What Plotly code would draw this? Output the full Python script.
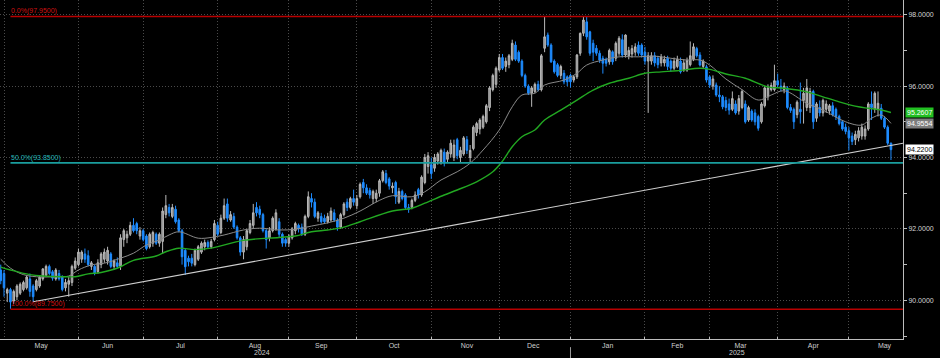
import pandas as pd
import plotly.graph_objects as go

# ---------------- data ----------------
dates = pd.bdate_range("2024-04-30", "2025-05-20")

opens = [
    90.85, 90.75, 90.20, 90.30, 89.98, 90.10, 90.20, 90.30, 90.35, 90.60,
    90.40, 90.30, 90.40, 90.60, 90.70, 90.95, 90.80, 90.60, 90.75, 90.65,
    90.35, 90.45, 90.50, 90.90, 91.00, 91.15, 91.30, 91.25, 90.95, 90.95,
    90.80, 91.00, 91.15, 91.10, 91.30, 90.95, 91.05, 90.95, 91.70, 91.75,
    91.85, 92.10, 92.15, 91.80, 91.95, 91.80, 91.50, 91.60, 91.85, 91.60,
    91.65, 92.40, 92.60, 92.35, 92.55, 92.25, 91.95, 91.40, 91.18, 91.18,
    91.00, 91.15, 91.35, 91.50, 91.62, 91.50, 91.70, 92.10, 91.90, 92.30,
    92.70, 92.25, 92.35, 92.05, 91.75, 91.35, 91.50, 91.90, 92.10, 92.60,
    92.55, 92.40, 91.95, 91.75, 91.95, 92.00, 92.20, 91.85, 91.70, 91.60,
    91.75, 91.95, 92.10, 92.05, 91.85, 92.35, 92.85, 92.75, 92.30, 92.35,
    92.30, 92.20, 92.25, 92.45, 92.25, 92.05, 92.40, 92.75, 92.60, 92.85,
    92.65, 92.90, 93.30, 93.15, 93.08, 92.85, 92.85, 93.00, 93.35, 93.55,
    93.40, 93.15, 93.30, 92.75, 93.05, 92.95, 92.60, 92.60, 92.80, 93.10,
    92.95, 93.30, 93.75, 93.80, 93.70, 93.90, 93.85, 94.15, 93.95, 94.10,
    94.00, 94.50, 94.00, 94.10, 94.50, 94.00, 94.25, 94.70, 94.80, 94.85,
    95.00, 95.40, 95.90, 96.05, 96.45, 96.80, 96.55, 96.60, 96.75, 97.15,
    96.95, 96.70, 96.30, 96.00, 95.80, 95.85, 96.05, 95.90, 97.06, 97.43,
    97.15, 96.70, 96.60, 96.30, 96.36, 96.26, 96.30, 96.17, 96.26, 96.92,
    97.48, 97.80, 97.52, 97.20, 97.06, 96.92, 96.78, 96.75, 96.68, 96.96,
    96.78, 96.92, 97.30, 96.87, 96.85, 96.90, 96.95, 97.15, 97.15, 96.95,
    96.70, 96.70, 96.85, 96.78, 96.65, 96.65, 96.78, 96.70, 96.50, 96.55,
    96.70, 96.45, 96.45, 96.60, 96.75, 97.05, 96.87, 96.55, 96.54, 96.26,
    96.00, 96.03, 95.75, 95.70, 95.60, 95.50, 95.35, 95.50, 95.30, 95.40,
    95.50, 95.05, 95.30, 95.25, 95.15, 95.00, 95.45, 95.70, 95.90, 95.90,
    96.15, 96.00, 95.90, 95.95, 95.40, 95.35, 95.20, 95.35, 95.60, 95.40,
    95.40, 95.85, 95.10, 95.40, 95.25, 95.35, 95.30, 95.45, 95.35, 95.15,
    95.00, 94.85, 94.75, 94.60, 94.50, 94.55, 94.60, 94.60, 94.80, 95.50,
    95.35, 95.35, 95.38, 95.10, 94.85, 94.40,
]
highs = [
    91.00, 90.85, 90.35, 90.35, 90.30, 90.45, 90.50, 90.55, 90.70, 90.75,
    90.45, 90.60, 90.70, 90.90, 91.00, 91.00, 90.85, 90.90, 90.85, 90.70,
    90.60, 90.65, 91.00, 91.20, 91.45, 91.40, 91.45, 91.40, 91.10, 91.00,
    91.15, 91.35, 91.45, 91.50, 91.35, 91.15, 91.20, 91.85, 92.00, 91.95,
    92.20, 92.30, 92.20, 92.05, 92.00, 91.85, 91.90, 91.95, 91.90, 91.90,
    92.60, 92.95, 92.70, 92.70, 92.65, 92.30, 92.00, 91.45, 91.25, 91.30,
    91.45, 91.55, 91.65, 91.70, 91.68, 91.72, 92.25, 92.20, 92.40, 92.85,
    92.85, 92.50, 92.45, 92.10, 91.80, 91.80, 92.00, 92.25, 92.70, 92.75,
    92.65, 92.45, 92.00, 92.05, 92.35, 92.55, 92.30, 91.90, 91.75, 91.85,
    92.05, 92.20, 92.15, 92.15, 92.40, 93.05, 93.00, 92.85, 92.50, 92.45,
    92.40, 92.45, 92.60, 92.55, 92.30, 92.45, 92.75, 92.85, 92.90, 93.10,
    92.95, 93.30, 93.40, 93.25, 93.15, 93.10, 93.10, 93.40, 93.65, 93.65,
    93.45, 93.30, 93.35, 93.15, 93.10, 93.00, 92.70, 92.85, 93.05, 93.15,
    93.50, 94.10, 94.15, 94.00, 94.10, 94.15, 94.25, 94.25, 94.20, 94.50,
    94.50, 94.55, 94.30, 94.60, 94.60, 94.35, 94.90, 95.00, 95.10, 95.20,
    95.50, 96.00, 96.35, 96.55, 96.90, 96.90, 96.80, 96.90, 97.30, 97.25,
    97.00, 96.75, 96.35, 96.05, 96.00, 96.10, 96.15, 96.90, 97.95, 97.50,
    97.20, 96.75, 96.65, 96.60, 96.45, 96.30, 96.35, 96.30, 96.90, 97.50,
    97.95, 97.94, 97.55, 97.30, 97.15, 97.00, 96.85, 96.80, 97.05, 97.00,
    97.25, 97.40, 97.45, 97.45, 97.10, 97.15, 97.20, 97.25, 97.20, 97.10,
    96.95, 96.95, 96.95, 96.85, 96.90, 96.85, 96.85, 96.75, 96.80, 96.85,
    96.80, 96.75, 96.80, 97.25, 97.20, 97.10, 96.95, 96.75, 96.60, 96.30,
    96.30, 96.10, 96.00, 95.75, 95.70, 95.65, 95.85, 95.60, 95.75, 95.90,
    95.60, 95.45, 95.35, 95.35, 95.20, 95.55, 96.00, 96.05, 96.10, 96.60,
    96.35, 96.20, 96.10, 96.00, 95.50, 95.40, 95.60, 96.10, 95.95, 96.20,
    95.95, 95.90, 95.55, 95.60, 95.65, 95.60, 95.50, 95.55, 95.40, 95.20,
    95.05, 94.95, 94.85, 94.70, 94.75, 94.85, 94.95, 94.90, 95.55, 95.85,
    95.85, 95.85, 95.50, 95.15, 94.90, 94.42,
]
lows = [
    90.45, 90.10, 89.95, 89.76, 89.90, 90.00, 90.15, 90.25, 90.30, 90.10,
    89.95, 90.25, 90.35, 90.55, 90.65, 90.70, 90.55, 90.55, 90.55, 90.25,
    90.25, 90.10, 90.40, 90.85, 90.95, 91.05, 91.05, 90.95, 90.85, 90.70,
    90.75, 90.90, 91.05, 91.00, 90.90, 90.85, 90.90, 90.85, 91.50, 91.60,
    91.80, 91.90, 91.85, 91.70, 91.65, 91.40, 91.45, 91.50, 91.55, 91.50,
    91.30, 92.30, 92.35, 92.30, 92.15, 91.90, 91.00, 90.71, 90.95, 90.95,
    90.95, 91.10, 91.30, 91.40, 91.45, 91.45, 91.65, 91.80, 91.85, 92.25,
    92.20, 92.20, 92.00, 91.70, 91.25, 91.15, 91.40, 91.85, 92.00, 92.35,
    92.30, 91.90, 91.45, 91.65, 91.90, 91.95, 91.75, 91.50, 91.50, 91.50,
    91.70, 91.85, 91.90, 91.80, 91.80, 92.30, 92.60, 92.30, 92.20, 92.15,
    92.15, 92.15, 92.20, 92.20, 91.95, 92.00, 92.35, 92.50, 92.55, 92.65,
    92.55, 92.85, 93.00, 92.95, 92.85, 92.70, 92.75, 92.90, 93.30, 93.25,
    93.10, 93.00, 92.70, 92.70, 92.80, 92.55, 92.45, 92.55, 92.75, 92.85,
    92.90, 93.25, 93.55, 93.40, 93.60, 93.80, 93.80, 93.75, 93.85, 94.00,
    93.90, 93.95, 93.85, 94.05, 94.10, 93.85, 94.20, 94.60, 94.65, 94.80,
    94.95, 95.30, 95.85, 95.95, 96.40, 96.45, 96.40, 96.50, 96.70, 96.70,
    96.65, 96.25, 95.95, 95.75, 95.42, 95.80, 95.85, 95.85, 96.95, 97.10,
    96.65, 96.35, 96.25, 96.20, 96.05, 96.00, 95.96, 96.10, 96.20, 96.85,
    97.40, 97.30, 96.85, 96.70, 96.85, 96.65, 96.35, 96.55, 96.60, 96.60,
    96.70, 96.85, 96.80, 96.80, 96.75, 96.80, 96.85, 96.85, 96.80, 96.60,
    95.25, 96.60, 96.55, 96.50, 96.55, 96.55, 96.45, 96.40, 96.45, 96.50,
    96.35, 96.40, 96.40, 96.55, 96.70, 96.80, 96.55, 96.50, 96.10, 95.95,
    95.90, 95.70, 95.55, 95.35, 95.30, 95.20, 95.30, 95.20, 95.20, 95.35,
    94.95, 95.00, 95.00, 94.90, 94.75, 94.95, 95.40, 95.60, 95.85, 95.85,
    95.95, 95.85, 95.80, 95.35, 95.25, 94.80, 95.10, 94.95, 94.95, 95.30,
    95.25, 94.80, 95.00, 95.15, 95.15, 95.25, 95.20, 95.15, 95.05, 94.90,
    94.75, 94.65, 94.20, 94.35, 94.35, 94.45, 94.50, 94.50, 94.75, 95.05,
    95.25, 95.15, 95.05, 94.80, 94.35, 93.93,
]
closes = [
    90.55, 90.35, 90.30, 89.95, 90.25, 90.40, 90.45, 90.50, 90.65, 90.25,
    90.10, 90.55, 90.65, 90.88, 90.95, 90.75, 90.62, 90.85, 90.60, 90.30,
    90.50, 90.55, 90.95, 91.10, 91.35, 91.35, 91.15, 91.00, 91.05, 90.75,
    91.05, 91.30, 91.35, 91.40, 90.95, 91.10, 90.95, 91.75, 91.95, 91.85,
    92.10, 91.95, 91.95, 91.95, 91.70, 91.45, 91.85, 91.90, 91.60, 91.85,
    92.50, 92.65, 92.45, 92.60, 92.20, 91.95, 91.22, 90.94, 91.08, 91.04,
    91.40, 91.50, 91.60, 91.62, 91.50, 91.65, 92.15, 91.85, 92.30, 92.65,
    92.30, 92.40, 92.05, 91.75, 91.35, 91.70, 91.95, 92.15, 92.45, 92.45,
    92.40, 91.95, 91.70, 91.95, 92.30, 92.45, 91.85, 91.60, 91.60, 91.80,
    92.00, 92.15, 92.00, 91.85, 92.35, 92.90, 92.75, 92.35, 92.45, 92.20,
    92.20, 92.35, 92.50, 92.25, 92.05, 92.40, 92.70, 92.60, 92.85, 92.75,
    92.85, 93.25, 93.15, 93.00, 92.95, 93.05, 93.00, 93.35, 93.60, 93.30,
    93.20, 93.20, 92.90, 93.05, 92.85, 92.60, 92.55, 92.80, 92.95, 92.95,
    93.45, 94.00, 94.05, 93.55, 94.00, 94.10, 94.20, 93.85, 94.15, 94.40,
    94.35, 94.05, 94.20, 94.55, 94.20, 94.20, 94.85, 94.95, 95.05, 95.15,
    95.45, 95.95, 96.30, 96.50, 96.80, 96.50, 96.70, 96.85, 97.20, 96.75,
    96.70, 96.30, 96.00, 95.80, 95.95, 96.05, 95.90, 96.85, 97.38, 97.15,
    96.68, 96.40, 96.30, 96.55, 96.12, 96.12, 96.12, 96.26, 96.87, 97.48,
    97.85, 97.38, 96.92, 96.95, 96.92, 96.73, 96.64, 96.64, 97.00, 96.68,
    97.20, 97.34, 96.87, 97.43, 97.00, 97.05, 97.10, 96.92, 96.87, 96.70,
    96.85, 96.85, 96.65, 96.60, 96.82, 96.75, 96.55, 96.50, 96.70, 96.75,
    96.40, 96.65, 96.72, 96.85, 97.10, 96.85, 96.59, 96.70, 96.17, 96.03,
    96.20, 95.75, 95.70, 95.42, 95.40, 95.33, 95.65, 95.25, 95.65, 95.85,
    95.00, 95.40, 95.05, 95.00, 94.82, 95.50, 95.95, 95.95, 96.02, 96.15,
    96.03, 95.95, 96.00, 95.40, 95.32, 95.00, 95.55, 95.28, 95.80, 95.95,
    95.85, 95.00, 95.50, 95.25, 95.60, 95.50, 95.45, 95.20, 95.15, 94.95,
    94.80, 94.73, 94.55, 94.45, 94.65, 94.75, 94.85, 94.80, 95.50, 95.40,
    95.80, 95.52, 95.10, 94.85, 94.40, 94.22,
]

# moving averages
ma_fast_dates = [
    "2024-04-30", "2024-05-03", "2024-05-09", "2024-05-15", "2024-05-23", "2024-05-29",
    "2024-06-03", "2024-06-07", "2024-06-13", "2024-06-20", "2024-06-26", "2024-07-02",
    "2024-07-08", "2024-07-11", "2024-07-16", "2024-07-24", "2024-07-30", "2024-08-05",
    "2024-08-13", "2024-08-20", "2024-08-28", "2024-09-04", "2024-09-11", "2024-09-18",
    "2024-09-25", "2024-10-02", "2024-10-10", "2024-10-16", "2024-10-24", "2024-10-30",
    "2024-11-06", "2024-11-13", "2024-11-19", "2024-11-25", "2024-12-02", "2024-12-06",
    "2024-12-11", "2024-12-17", "2024-12-20", "2024-12-30", "2025-01-03", "2025-01-08",
    "2025-01-15", "2025-01-22", "2025-01-30", "2025-02-06", "2025-02-13", "2025-02-20",
    "2025-02-26", "2025-03-03", "2025-03-10", "2025-03-17", "2025-03-24", "2025-03-28",
    "2025-04-03", "2025-04-14", "2025-04-21", "2025-04-30", "2025-05-07", "2025-05-12",
    "2025-05-15", "2025-05-20",
]
ma_fast_vals = [
    91.15, 90.90, 90.72, 90.66, 90.66, 90.68,
    90.85, 90.99, 91.04, 91.18, 91.32, 91.55,
    91.69, 91.83, 91.92, 91.74, 91.76, 91.83,
    91.97, 92.02, 91.97, 91.99, 92.08, 92.17,
    92.30, 92.50, 92.80, 92.93, 92.90, 93.04,
    93.37, 93.60, 93.84, 94.21, 94.77, 95.42,
    95.75, 95.80, 96.03, 96.17, 96.36, 96.59,
    96.73, 96.82, 96.82, 96.84, 96.78, 96.73,
    96.73, 96.59, 96.20, 95.90, 95.61, 95.75,
    95.87, 95.52, 95.33, 95.00, 94.91, 95.10,
    95.19, 94.9554,
]
ma_slow_dates = [
    "2024-04-30", "2024-05-03", "2024-05-13", "2024-05-17", "2024-05-28", "2024-05-31",
    "2024-06-06", "2024-06-12", "2024-06-18", "2024-06-20", "2024-06-26", "2024-07-05",
    "2024-07-10", "2024-07-16", "2024-07-23", "2024-07-30", "2024-08-13", "2024-08-28",
    "2024-09-04", "2024-09-11", "2024-09-18", "2024-09-25", "2024-10-02", "2024-10-16",
    "2024-10-24", "2024-10-30", "2024-11-07", "2024-11-13", "2024-11-21", "2024-11-28",
    "2024-12-03", "2024-12-06", "2024-12-11", "2024-12-17", "2024-12-20", "2024-12-27",
    "2025-01-03", "2025-01-10", "2025-01-17", "2025-01-27", "2025-02-03", "2025-02-10",
    "2025-02-17", "2025-02-26", "2025-03-03", "2025-03-10", "2025-03-18", "2025-03-27",
    "2025-04-03", "2025-04-14", "2025-04-21", "2025-04-28", "2025-05-06", "2025-05-09",
    "2025-05-15", "2025-05-20",
]
ma_slow_vals = [
    90.93, 90.85, 90.72, 90.68, 90.66, 90.66,
    90.74, 90.78, 90.87, 90.94, 91.12, 91.24,
    91.36, 91.46, 91.42, 91.46, 91.68, 91.76,
    91.80, 91.92, 91.97, 92.05, 92.20, 92.50,
    92.58, 92.72, 92.95, 93.09, 93.32, 93.60,
    93.90, 94.30, 94.58, 94.77, 95.05, 95.33,
    95.61, 95.89, 96.08, 96.22, 96.36, 96.40,
    96.43, 96.50, 96.47, 96.34, 96.22, 95.98,
    95.94, 95.84, 95.70, 95.56, 95.42, 95.38,
    95.33, 95.2607,
]

fib_start = "2024-05-03"
fib_levels = [97.95, 93.85, 89.75]
fib_labels = ["0.0%(97.9500)", "50.0%(93.8500)", "100.0%(89.7500)"]
fib_colors = ["#b80000", "#1a9e9e", "#b80000"]
fib_text_colors = ["#d01010", "#25b8b8", "#d01010"]

trend_dates = ["2024-05-14", "2025-05-23 17:15"]
trend_vals = [89.96, 94.40]

last_slow = 95.2607
last_fast = 94.9554
last_close = 94.22

x_range = ["2024-04-29 18:20", "2025-05-23 17:15"]
y_range = [88.916, 98.412]

GRID = "#4a4a4a"
AXIS = "#bdbdbd"

# ---------------- figure ----------------
fig = go.Figure()

fig.add_trace(go.Scatter(
    x=trend_dates, y=trend_vals, mode="lines",
    line=dict(color="#cfcfcf", width=1.1), hoverinfo="skip"))

fig.add_trace(go.Candlestick(
    x=dates, open=opens, high=highs, low=lows, close=closes,
    increasing=dict(line=dict(color="#b9b9b9", width=1), fillcolor="#8c8c8c"),
    decreasing=dict(line=dict(color="#1e8cff", width=1), fillcolor="#1e8cff"),
    whiskerwidth=0, hoverinfo="skip"))

fig.add_trace(go.Scatter(
    x=ma_fast_dates, y=ma_fast_vals, mode="lines", line_shape="spline",
    line=dict(color="#8a8a8a", width=1), hoverinfo="skip"))
fig.add_trace(go.Scatter(
    x=ma_slow_dates, y=ma_slow_vals, mode="lines", line_shape="spline",
    line=dict(color="#22a822", width=1.4), hoverinfo="skip"))

for lvl, lab, col, tcol in zip(fib_levels, fib_labels, fib_colors, fib_text_colors):
    fig.add_shape(type="line", xref="x", yref="y", x0=fib_start, x1=x_range[1],
                  y0=lvl, y1=lvl, line=dict(color=col, width=1.6), layer="above")
    fig.add_annotation(x=fib_start, y=lvl, xref="x", yref="y", text=lab,
                       showarrow=False, xanchor="left", yanchor="bottom",
                       font=dict(size=7, color=tcol), xshift=-1, yshift=-1)

# year separator tick
fig.add_shape(type="line", xref="x", yref="paper", x0="2025-01-01", x1="2025-01-01",
              y0=-0.024, y1=-0.06, line=dict(color="#9a9a9a", width=1))

# year labels
fig.add_annotation(x="2024-08-20 17:00", y=-0.041, xref="x", yref="paper", text="2024",
                   showarrow=False, font=dict(size=7, color="#cfcfcf"), yanchor="middle")
fig.add_annotation(x="2025-03-13 10:00", y=-0.041, xref="x", yref="paper", text="2025",
                   showarrow=False, font=dict(size=7, color="#cfcfcf"), yanchor="middle")

# right-hand value boxes
for val, bg, fg in [(last_slow, "#22c022", "#ffffff"),
                    (last_fast, "#7c7c7c", "#ffffff"),
                    (last_close, "#ffffff", "#000000")]:
    fig.add_annotation(x=1, y=val, xref="paper", yref="y", text=f"{val:.4f}",
                       showarrow=False, xanchor="left", yanchor="middle", xshift=2,
                       bgcolor=bg, borderpad=1, font=dict(size=7, color=fg))

fig.update_layout(
    width=940, height=358,
    margin=dict(l=0, r=37, t=0, b=19, autoexpand=False),
    paper_bgcolor="#000000", plot_bgcolor="#000000",
    showlegend=False, hovermode=False,
    font=dict(family="Liberation Sans, Arial, sans-serif", size=7, color="#cfcfcf"),
    xaxis=dict(
        type="date", range=x_range,
        rangebreaks=[dict(bounds=["sat", "mon"])],
        rangeslider=dict(visible=False),
        dtick="M1", tick0="2024-05-01", tickformat="%b", ticklabelmode="period",
        showgrid=True, gridcolor=GRID, griddash="1px,2px", gridwidth=1,
        showline=True, linecolor=AXIS, linewidth=1,
        ticks="inside", ticklen=2, tickcolor=AXIS,
        tickfont=dict(size=7, color="#cfcfcf"), zeroline=False,
    ),
    yaxis=dict(
        side="right", range=y_range, dtick=2, tick0=90, tickformat=".4f",
        showgrid=True, gridcolor=GRID, griddash="1px,2px", gridwidth=1,
        showline=True, linecolor=AXIS, linewidth=1,
        ticks="outside", ticklen=3, tickcolor=AXIS,
        minor=dict(dtick=1, ticks="outside", ticklen=3, tickcolor=AXIS, showgrid=False),
        tickfont=dict(size=7, color="#d4d4d4"), zeroline=False,
    ),
)

fig.write_html(
    "out.html",
    config={"displayModeBar": False, "staticPlot": True},
    post_script="document.body.style.margin='0';document.body.style.overflow='hidden';",
)
